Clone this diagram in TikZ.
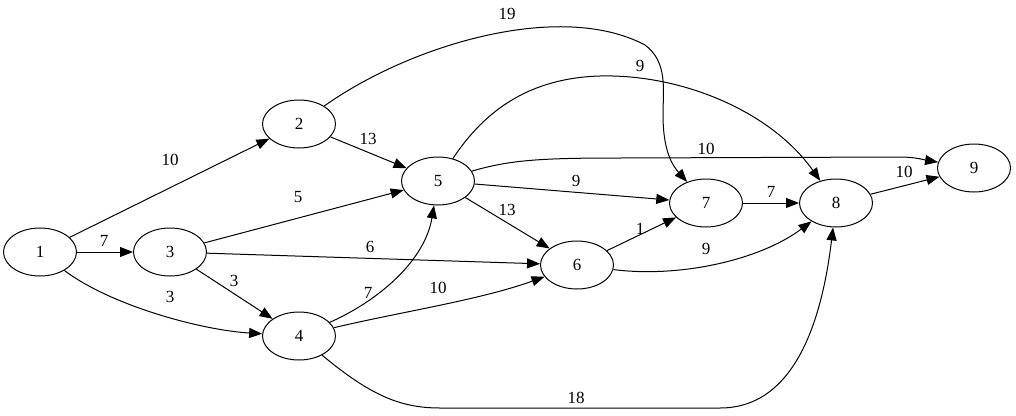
\documentclass[tikz,border=0pt]{standalone}
\usepackage{fontspec}
\setmainfont{Liberation Serif}
\usetikzlibrary{shapes.geometric,arrows.meta}
\begin{document}
\begin{tikzpicture}[x=1pt,y=-1pt,
  vert/.style={draw,ellipse,minimum width=73pt,minimum height=48pt,inner sep=0pt,line width=1pt,font=\fontsize{17}{20}\selectfont},
  lbl/.style={inner sep=0pt,font=\fontsize{17}{20}\selectfont},
  edge/.style={line width=1pt,-{Triangle[length=13pt,width=10pt]}}]
\useasboundingbox (0,0) rectangle (1016,415);
\node[vert] (n1) at (40,252) {1};
\node[vert] (n2) at (299,124) {2};
\node[vert] (n3) at (170,252) {3};
\node[vert] (n4) at (299,336) {4};
\node[vert] (n5) at (438,181) {5};
\node[vert] (n6) at (577,265) {6};
\node[vert] (n7) at (706,203) {7};
\node[vert] (n8) at (836,203) {8};
\node[vert] (n9) at (974,168) {9};
% edges
\draw[edge] (n1) -- (n2);
\draw[edge] (n1) -- (n3);
\draw[edge] (n1) .. controls (110,305) and (200,330) .. (n4);
\draw[edge] (n2) -- (n5);
\draw[edge] (n2) .. controls (410,45) and (560,0) .. (645,45) .. controls (668,62) and (663,90) .. (663,115) .. controls (663,150) and (672,165) .. (n7);
\draw[edge] (n3) -- (n5);
\draw[edge] (n3) -- (n6);
\draw[edge] (n3) -- (n4);
\draw[edge] (n4) .. controls (380,300) and (425,260) .. (n5);
\draw[edge] (n4) .. controls (400,312) and (480,300) .. (n6);
\draw[edge] (n4) .. controls (370,395) and (400,408) .. (440,408) -- (720,408) .. controls (795,408) and (822,320) .. (n8);
\draw[edge] (n5) .. controls (485,110) and (530,78) .. (600,76) .. controls (680,74) and (770,110) .. (n8);
\draw[edge] (n5) .. controls (510,160) and (540,158) .. (620,158) -- (900,157) .. controls (915,157) and (925,160) .. (n9);
\draw[edge] (n5) -- (n7);
\draw[edge] (n5) -- (n6);
\draw[edge] (n6) -- (n7);
\draw[edge] (n6) .. controls (680,278) and (760,260) .. (n8);
\draw[edge] (n7) -- (n8);
\draw[edge] (n8) -- (n9);
% labels
\node[lbl] (l12) at (170,160) {10};
\node[lbl] (l13) at (104,241) {7};
\node[lbl] (l14) at (170,297) {3};
\node[lbl] (l25) at (368,139) {13};
\node[lbl] (l27) at (507,14) {19};
\node[lbl] (l35) at (298,197) {5};
\node[lbl] (l36) at (370,247) {6};
\node[lbl] (l34) at (234,281) {3};
\node[lbl] (l45) at (368,293) {7};
\node[lbl] (l46) at (438,288) {10};
\node[lbl] (l48) at (576,398) {18};
\node[lbl] (l58) at (640,66) {9};
\node[lbl] (l59) at (706,149) {10};
\node[lbl] (l57) at (576,181) {9};
\node[lbl] (l56) at (507,210) {13};
\node[lbl] (l67) at (640,229) {1};
\node[lbl] (l68) at (706,249) {9};
\node[lbl] (l78) at (771,192) {7};
\node[lbl] (l89) at (904,172) {10};
\end{tikzpicture}
\end{document}
